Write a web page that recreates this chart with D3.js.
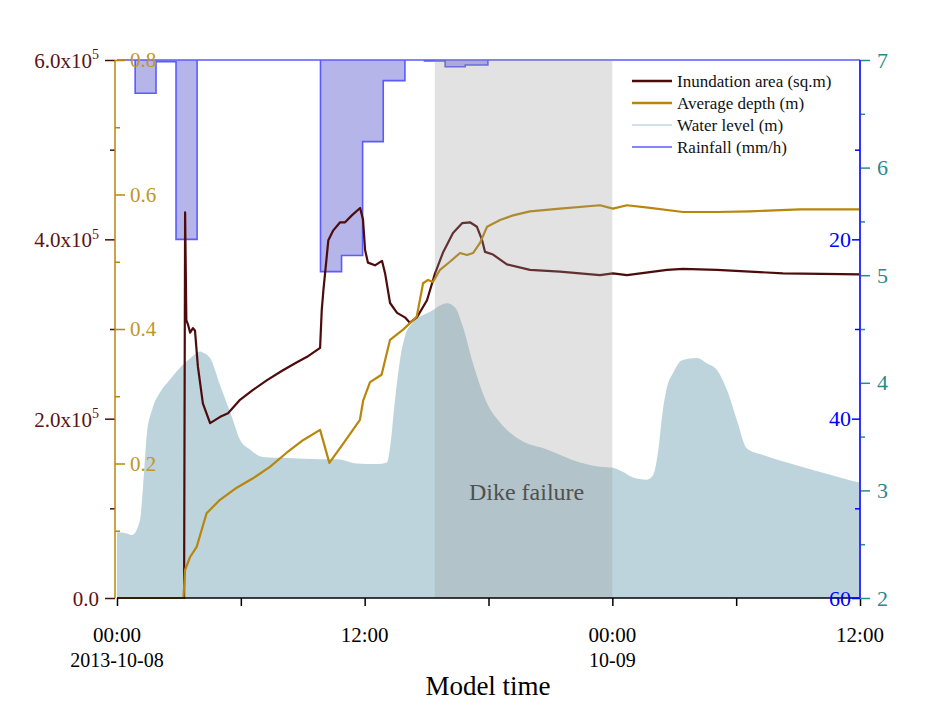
<!DOCTYPE html>
<html><head><meta charset="utf-8">
<script src="https://cdn.jsdelivr.net/npm/d3@7"></script>
<style>
body{margin:0;background:#fff;}
svg text{font-family:"Liberation Serif","Times New Roman",serif;}
</style></head>
<body><svg id="c" width="937" height="724"></svg>
<script>
// ---------- data (time in hours after 2013-10-08 00:00) ----------
const levelTimes = [0,0.48,0.73,1.11,1.26,1.45,1.70,2.08,2.57,3.20,3.63,4.02,4.17,4.51,4.99,5.57,5.96,6.44,7.07,8.24,9.84,10.66,11.63,12.60,13.08,13.23,13.47,13.71,13.95,14.34,15.17,15.99,16.38,16.76,17.25,17.93,18.56,19.53,20.83,22.43,23.40,24.03,24.52,25.00,25.68,25.97,26.21,26.45,26.65,26.94,27.38,28.10,28.59,29.07,29.56,30.04,30.52,31.30,32.46,33.72,35.03,36.0];
const levelValues = [2.61,2.60,2.585,2.72,3.03,3.53,3.75,3.91,4.03,4.17,4.24,4.29,4.28,4.23,3.98,3.68,3.47,3.38,3.31,3.30,3.29,3.29,3.25,3.245,3.26,3.40,3.84,4.21,4.43,4.56,4.66,4.74,4.70,4.52,4.18,3.81,3.63,3.47,3.38,3.26,3.22,3.21,3.17,3.12,3.10,3.14,3.35,3.75,3.96,4.09,4.21,4.23,4.18,4.12,3.93,3.65,3.39,3.33,3.26,3.19,3.12,3.07];

const rainTimes  = [0,0.88,1.89,2.86,3.88,9.86,10.88,11.90,12.90,13.95,14.9,15.9,16.87,17.97,36];
const rainValues = [0,3.7,0.2,20,0,23.6,21.8,9.1,2.3,0,0.1,0.75,0.56,0,0];

const areaTimes  = [0,3.25,3.30,3.36,3.44,3.54,3.68,3.78,3.92,4.16,4.51,5.0,5.38,5.96,6.59,7.27,8.04,8.72,9.21,9.84,9.92,10.0,10.24,10.48,10.81,11.05,11.39,11.78,11.92,12.02,12.16,12.50,12.84,12.99,13.23,13.57,13.95,14.19,14.53,15.02,15.41,15.79,16.28,16.72,17.10,17.44,17.69,17.83,18.22,18.89,20.01,21.46,23.40,24.03,24.71,26.65,27.42,29.07,30.67,32.27,36.0];
const areaValues = [0,0,4.30e5,3.10e5,3.05e5,2.96e5,3.01e5,2.98e5,2.58e5,2.17e5,1.95e5,2.02e5,2.06e5,2.21e5,2.32e5,2.43e5,2.54e5,2.63e5,2.69e5,2.79e5,3.21e5,3.43e5,3.99e5,4.10e5,4.19e5,4.19e5,4.27e5,4.35e5,4.22e5,3.88e5,3.74e5,3.71e5,3.76e5,3.62e5,3.29e5,3.18e5,3.13e5,3.07e5,3.13e5,3.32e5,3.62e5,3.85e5,4.07e5,4.18e5,4.19e5,4.14e5,3.99e5,3.86e5,3.83e5,3.72e5,3.66e5,3.64e5,3.60e5,3.62e5,3.60e5,3.66e5,3.67e5,3.66e5,3.64e5,3.62e5,3.61e5];

const depthTimes  = [0,3.22,3.30,3.54,3.86,4.34,4.99,5.80,6.59,7.41,8.22,9.03,9.84,10.29,10.97,11.77,11.93,12.26,12.82,13.23,13.86,14.52,14.83,15.07,15.31,15.65,16.13,16.62,16.96,17.25,17.59,17.93,18.56,19.19,20.01,21.46,23.40,24.03,24.71,25.83,27.42,29.07,30.67,33.09,36.0];
const depthValues = [0,0,0.042,0.061,0.076,0.126,0.146,0.164,0.178,0.195,0.216,0.235,0.250,0.201,0.230,0.265,0.294,0.321,0.332,0.384,0.399,0.418,0.468,0.473,0.470,0.488,0.500,0.513,0.510,0.513,0.528,0.552,0.562,0.569,0.575,0.579,0.584,0.579,0.584,0.580,0.574,0.574,0.575,0.578,0.578];

const dikeFailure = [15.4, 24.0];

const timeTickHours = [0,6,12,18,24,30,36];
const timeTickLabels = ["00:00","","12:00","","00:00","","12:00"];
const dateTickLabels = ["2013-10-08","","","","10-09","",""];
const areaTicks = [0,2e5,4e5,6e5];
const areaTickLabels = [["0.0",""],["2.0x10","5"],["4.0x10","5"],["6.0x10","5"]];
const depthTicks = [0.2,0.4,0.6,0.8];
const levelTicks = [2,3,4,5,6,7];
const rainTicks = [20,40,60];

const legendLabels = ["Inundation area (sq.m)","Average depth (m)","Water level (m)","Rainfall (mm/h)"];

// ---------- setup ----------
const svg = d3.select("#c");
const L=117, R=860, T=60, B=598;
const t0 = Date.UTC(2013,9,8,0,0);
const hr = h => new Date(t0 + h*3600e3);

const x = d3.scaleUtc().domain([hr(0),hr(36)]).range([L,R]);
const yArea = d3.scaleLinear().domain([0,6e5]).range([B,T]);
const yDepth = d3.scaleLinear().domain([0,0.8]).range([B,T]);
const yLevel = d3.scaleLinear().domain([2,7]).range([B,T]);
const yRain = d3.scaleLinear().domain([0,60]).range([T,B]);

const cArea="#4e0b0b", cDepth="#b8860b", cLevelFill="#bdd4dd", cLevelAxis="#2a8a8c", cRainFill="rgba(120,120,215,0.55)", cRainStroke="#5b5bff", cBlue="#0000ff";

const zip = (a,b)=>a.map((t,i)=>[t,b[i]]);

// water level area
svg.append("path")
  .datum(zip(levelTimes,levelValues))
  .attr("fill",cLevelFill)
  .attr("d", d3.area().x(d=>x(hr(d[0]))).y0(B).y1(d=>yLevel(d[1])).curve(d3.curveMonotoneX));

// rainfall
svg.append("path")
  .datum(zip(rainTimes,rainValues))
  .attr("fill",cRainFill).attr("stroke",cRainStroke).attr("stroke-width",1.6)
  .attr("d", d3.area().x(d=>x(hr(d[0]))).y0(T).y1(d=>yRain(d[1])).curve(d3.curveStepAfter));

// lines
svg.append("path").datum(zip(areaTimes,areaValues))
  .attr("fill","none").attr("stroke",cArea).attr("stroke-width",2.2).attr("stroke-linejoin","round")
  .attr("d", d3.line().x(d=>x(hr(d[0]))).y(d=>yArea(d[1])));
svg.append("path").datum(zip(depthTimes,depthValues))
  .attr("fill","none").attr("stroke",cDepth).attr("stroke-width",2.2).attr("stroke-linejoin","round")
  .attr("d", d3.line().x(d=>x(hr(d[0]))).y(d=>yDepth(d[1])));

// dike failure band
svg.append("rect")
  .attr("x",x(hr(dikeFailure[0]))).attr("y",T)
  .attr("width",x(hr(dikeFailure[1]))-x(hr(dikeFailure[0]))).attr("height",B-T)
  .attr("fill","rgba(150,150,150,0.28)");
svg.append("text").attr("x",(x(hr(dikeFailure[0]))+x(hr(dikeFailure[1])))/2+3).attr("y",500)
  .attr("text-anchor","middle").attr("font-size",24).attr("fill","#505050").text("Dike failure");

// ---------- axes ----------
function styleAxis(g,color,fs){
  g.selectAll("path.domain").attr("stroke",color).attr("stroke-width",1.5);
  g.selectAll(".tick line").attr("stroke",color).attr("stroke-width",1.5);
  g.selectAll("text").attr("fill",color).attr("font-size",fs).attr("font-family","Liberation Serif");
}
// bottom
const gx = svg.append("g").attr("transform",`translate(0,${B})`)
  .call(d3.axisBottom(x).tickValues(timeTickHours.map(hr)).tickSize(8).tickFormat(""));
styleAxis(gx,"#000",19);
gx.selectAll("path.domain").attr("d",`M${L},0H${R}`);
timeTickHours.forEach((h,i)=>{
  if(timeTickLabels[i]) svg.append("text").attr("x",x(hr(h))).attr("y",642).attr("text-anchor","middle")
    .attr("font-size",21).attr("fill","#000").text(timeTickLabels[i]);
  if(dateTickLabels[i]) svg.append("text").attr("x",x(hr(h))).attr("y",667).attr("text-anchor","middle")
    .attr("font-size",20).attr("fill","#000").text(dateTickLabels[i]);
});
svg.append("text").attr("x",488).attr("y",695).attr("text-anchor","middle").attr("font-size",27).attr("fill","#000").text("Model time");

// inundation axis (left of x=115)
const AX=115;
const gA = svg.append("g").attr("transform",`translate(${AX},0)`)
  .call(d3.axisLeft(yArea).tickValues(areaTicks).tickSize(10).tickPadding(4).tickFormat(""));
styleAxis(gA,cArea,21);
gA.select("path.domain").remove();
gA.selectAll(".tick").each(function(d,i){
  const t = d3.select(this).append("text").attr("x",-16).attr("dy","0.35em").attr("text-anchor","end")
     .attr("fill","#5a1414").attr("font-size",21);
  t.append("tspan").text(areaTickLabels[i][0]);
  if(areaTickLabels[i][1]) t.append("tspan").attr("dy","-0.6em").attr("font-size",14).text(areaTickLabels[i][1]);
});
const gAm = svg.append("g").attr("transform",`translate(${AX},0)`)
  .call(d3.axisLeft(yArea).tickValues([1e5,3e5,5e5]).tickSize(5).tickFormat(""));
styleAxis(gAm,cArea,21); gAm.select("path.domain").remove();

// depth axis
const gD = svg.append("g").attr("transform",`translate(${AX},0)`)
  .call(d3.axisRight(yDepth).tickValues(depthTicks).tickSize(10).tickPadding(5).tickFormat(d3.format(".1f")));
styleAxis(gD,cDepth,21);
gD.selectAll("text").attr("fill","#c0962a");
gD.select("path.domain").attr("d",`M0,${T}V${B}`);
const gDm = svg.append("g").attr("transform",`translate(${AX},0)`)
  .call(d3.axisRight(yDepth).tickValues([0.1,0.3,0.5,0.7]).tickSize(5).tickFormat(""));
styleAxis(gDm,cDepth,21); gDm.select("path.domain").remove();

// water level axis (right)
const gL = svg.append("g").attr("transform",`translate(${R},0)`)
  .call(d3.axisRight(yLevel).tickValues(levelTicks).tickSize(10).tickPadding(7).tickFormat(d3.format("d")));
styleAxis(gL,cLevelAxis,22); gL.select("path.domain").remove();
const gLm = svg.append("g").attr("transform",`translate(${R},0)`)
  .call(d3.axisRight(yLevel).tickValues([2.5,3.5,4.5,5.5,6.5]).tickSize(5).tickFormat(""));
styleAxis(gLm,cLevelAxis,22); gLm.select("path.domain").remove();

// rainfall axis (right, inward labels)
const gR = svg.append("g").attr("transform",`translate(${R},0)`)
  .call(d3.axisLeft(yRain).tickValues(rainTicks).tickSize(8).tickPadding(1).tickFormat(d3.format("d")));
styleAxis(gR,cBlue,22);
gR.select("path.domain").attr("d",`M0,${T}V${B}`).attr("stroke","#3333ff").attr("stroke-width",2);
const gRm = svg.append("g").attr("transform",`translate(${R},0)`)
  .call(d3.axisLeft(yRain).tickValues([10,30,50]).tickSize(5).tickFormat(""));
styleAxis(gRm,cBlue,22); gRm.select("path.domain").remove();

// ---------- legend ----------
const legColors = [cArea,cDepth,"#a9c4dc",cRainStroke];
const legWidths = [2.5,2.5,1,1.5];
const legYs = [81,103,125,147];
legendLabels.forEach((lab,i)=>{
  svg.append("line").attr("x1",632).attr("x2",672).attr("y1",legYs[i]).attr("y2",legYs[i])
    .attr("stroke",legColors[i]).attr("stroke-width",legWidths[i]);
  svg.append("text").attr("x",677).attr("y",legYs[i]+6).attr("font-size",17).attr("fill","#111").text(lab);
});
</script></body></html>
